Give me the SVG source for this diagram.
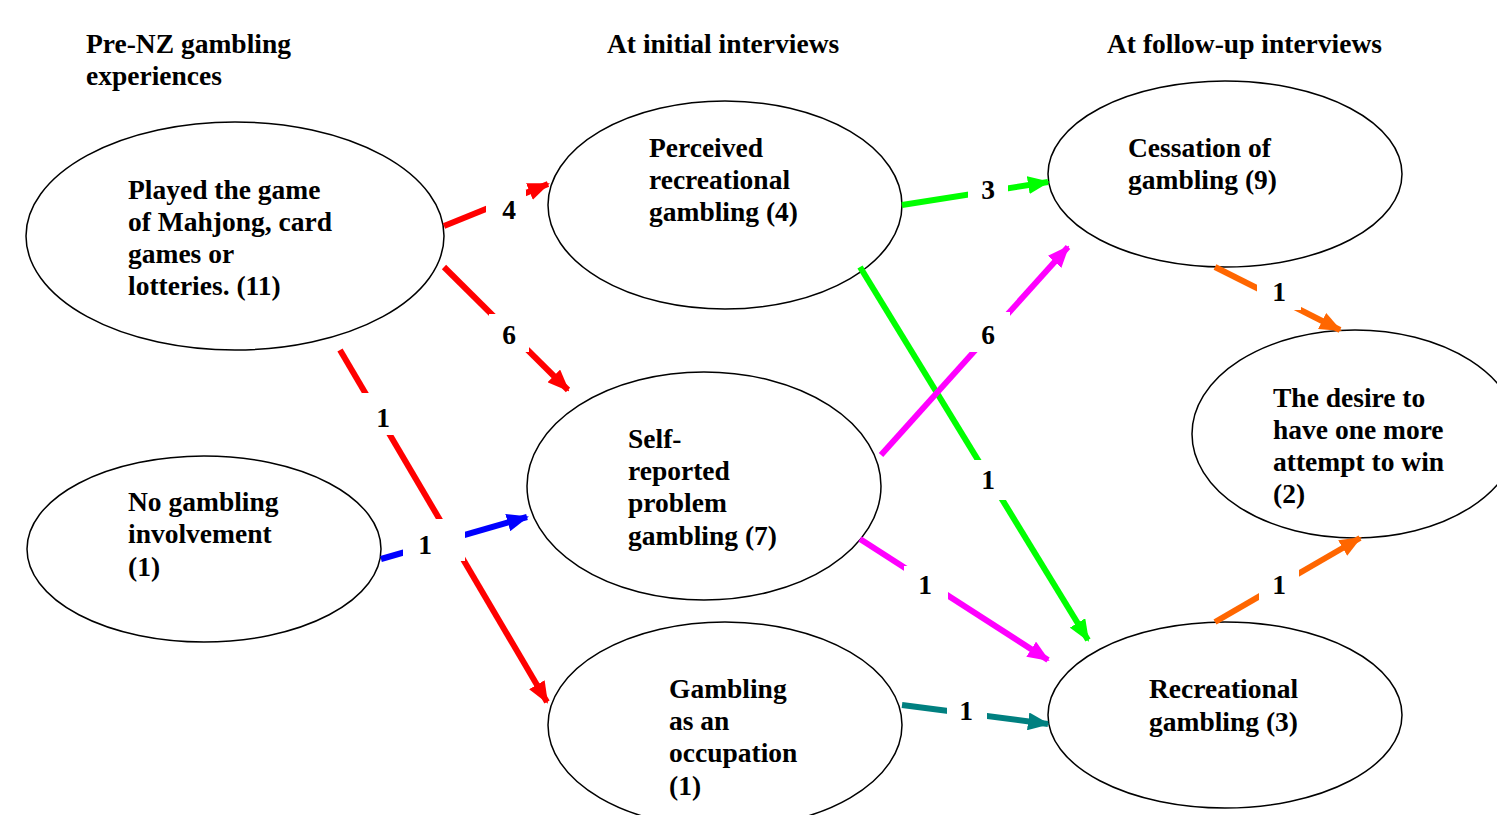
<svg xmlns="http://www.w3.org/2000/svg" width="1497" height="815" viewBox="0 0 1497 815">
<style>
text{font-family:"Liberation Serif","Times New Roman",serif;font-weight:bold;font-size:27.5px;fill:#000}
.n{fill:#fff;stroke:#000;stroke-width:1.5}
.c{fill:none;stroke-width:6}
.gap{fill:#fff}
</style>
<defs>
<marker id="mr" markerUnits="userSpaceOnUse" markerWidth="22" markerHeight="18" refX="20" refY="9" orient="auto"><path d="M0,0 L22,9 L0,18 z" fill="#FF0000"/></marker>
<marker id="mb" markerUnits="userSpaceOnUse" markerWidth="22" markerHeight="18" refX="20" refY="9" orient="auto"><path d="M0,0 L22,9 L0,18 z" fill="#0000FF"/></marker>
<marker id="mg" markerUnits="userSpaceOnUse" markerWidth="22" markerHeight="18" refX="20" refY="9" orient="auto"><path d="M0,0 L22,9 L0,18 z" fill="#00FF00"/></marker>
<marker id="mm" markerUnits="userSpaceOnUse" markerWidth="22" markerHeight="18" refX="20" refY="9" orient="auto"><path d="M0,0 L22,9 L0,18 z" fill="#FF00FF"/></marker>
<marker id="mt" markerUnits="userSpaceOnUse" markerWidth="22" markerHeight="18" refX="20" refY="9" orient="auto"><path d="M0,0 L22,9 L0,18 z" fill="#008080"/></marker>
<marker id="mo" markerUnits="userSpaceOnUse" markerWidth="22" markerHeight="18" refX="20" refY="9" orient="auto"><path d="M0,0 L22,9 L0,18 z" fill="#FF6600"/></marker>
</defs>
<rect width="1497" height="815" fill="#fff"/>
<g id="headers">
<text x="86" y="53">Pre-NZ gambling</text>
<text x="86" y="85">experiences</text>
<text x="607" y="53">At initial interviews</text>
<text x="1107" y="53">At follow-up interviews</text>
</g>
<g id="n-played"><ellipse class="n" cx="235" cy="236" rx="209" ry="114"/>
<text x="128" y="199">Played the game</text><text x="128" y="231">of Mahjong, card</text><text x="128" y="263">games or</text><text x="128" y="295">lotteries. (11)</text></g>
<g id="n-none"><ellipse class="n" cx="204" cy="549" rx="177" ry="93"/>
<text x="128" y="511">No gambling</text><text x="128" y="543">involvement</text><text x="128" y="576">(1)</text></g>
<g id="n-perceived"><ellipse class="n" cx="725" cy="205" rx="177" ry="104"/>
<text x="649" y="157">Perceived</text><text x="649" y="189">recreational</text><text x="649" y="221">gambling (4)</text></g>
<g id="n-self"><ellipse class="n" cx="704" cy="486" rx="177" ry="114"/>
<text x="628" y="448">Self-</text><text x="628" y="480">reported</text><text x="628" y="512">problem</text><text x="628" y="545">gambling (7)</text></g>
<g id="n-occupation"><ellipse class="n" cx="725" cy="725" rx="177" ry="103"/>
<text x="669" y="698">Gambling</text><text x="669" y="730">as an</text><text x="669" y="762">occupation</text><text x="669" y="795">(1)</text></g>
<g id="n-cessation"><ellipse class="n" cx="1225" cy="174" rx="177" ry="93"/>
<text x="1128" y="157">Cessation of</text><text x="1128" y="189">gambling (9)</text></g>
<g id="n-desire"><ellipse class="n" cx="1355" cy="434" rx="163" ry="104"/>
<text x="1273" y="407">The desire to</text><text x="1273" y="439">have one more</text><text x="1273" y="471">attempt to win</text><text x="1273" y="503">(2)</text></g>
<g id="n-recreational"><ellipse class="n" cx="1225" cy="715" rx="177" ry="93"/>
<text x="1149" y="698">Recreational</text><text x="1149" y="731">gambling (3)</text></g>
<g id="connectors">
<line class="c" stroke="#FF0000" x1="444" y1="226" x2="548" y2="184" marker-end="url(#mr)"/>
<line class="c" stroke="#FF0000" x1="444" y1="267" x2="568" y2="390" marker-end="url(#mr)"/>
<line class="c" stroke="#FF0000" x1="340" y1="350" x2="547" y2="702" marker-end="url(#mr)"/>
<line class="c" stroke="#0000FF" x1="381" y1="559" x2="527" y2="517" marker-end="url(#mb)"/>
<line class="c" stroke="#00FF00" x1="902" y1="205" x2="1048" y2="182" marker-end="url(#mg)"/>
<line class="c" stroke="#00FF00" x1="860" y1="267" x2="1088" y2="640" marker-end="url(#mg)"/>
<line class="c" stroke="#FF00FF" x1="881" y1="455" x2="1068" y2="247" marker-end="url(#mm)"/>
<line class="c" stroke="#FF00FF" x1="860" y1="539" x2="1048" y2="660" marker-end="url(#mm)"/>
<line class="c" stroke="#008080" x1="902" y1="705" x2="1048" y2="724" marker-end="url(#mt)"/>
<line class="c" stroke="#FF6600" x1="1215" y1="267" x2="1340" y2="330" marker-end="url(#mo)"/>
<line class="c" stroke="#FF6600" x1="1215" y1="622" x2="1360" y2="538" marker-end="url(#mo)"/>
<rect class="gap" x="486" y="190" width="40" height="38"/><text x="509" y="219" text-anchor="middle">4</text>
<rect class="gap" x="489" y="314" width="40" height="38"/><text x="509" y="344" text-anchor="middle">6</text>
<rect class="gap" x="362" y="393" width="42" height="42"/><text x="383" y="427" text-anchor="middle">1</text>
<rect class="gap" x="403" y="519" width="62" height="42"/><text x="425" y="554" text-anchor="middle">1</text>
<rect class="gap" x="968" y="170" width="40" height="38"/><text x="988" y="199" text-anchor="middle">3</text>
<rect class="gap" x="966" y="460" width="44" height="40"/><text x="988" y="489" text-anchor="middle">1</text>
<rect class="gap" x="966" y="312" width="44" height="40"/><text x="988" y="344" text-anchor="middle">6</text>
<rect class="gap" x="904" y="566" width="44" height="38"/><text x="925" y="594" text-anchor="middle">1</text>
<rect class="gap" x="947" y="694" width="40" height="34"/><text x="966" y="720" text-anchor="middle">1</text>
<rect class="gap" x="1257" y="280" width="44" height="30"/><text x="1279" y="301" text-anchor="middle">1</text>
<rect class="gap" x="1259" y="565" width="40" height="40"/><text x="1279" y="594" text-anchor="middle">1</text>
</g>
</svg>
